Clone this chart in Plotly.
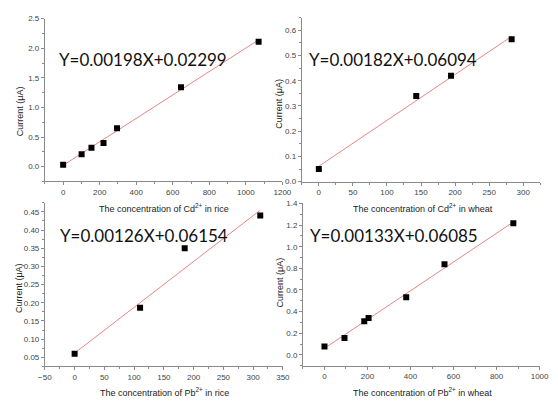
import plotly.graph_objects as go

W, H = 558, 402

# ---- data ----
cd_rice_x = [0, 101, 155, 221, 295, 645, 1070]
cd_rice_y = [0.03, 0.21, 0.32, 0.40, 0.65, 1.34, 2.11]

cd_wheat_x = [0, 143, 194, 283]
cd_wheat_y = [0.05, 0.34, 0.42, 0.565]

pb_rice_x = [0, 110, 185, 312]
pb_rice_y = [0.06, 0.186, 0.35, 0.44]

pb_wheat_x = [0, 93, 185, 205, 380, 558, 878]
pb_wheat_y = [0.078, 0.156, 0.31, 0.342, 0.532, 0.838, 1.217]

slopes = [0.00198, 0.00182, 0.00126, 0.00133]
intercepts = [0.02299, 0.06094, 0.06154, 0.06085]
equations = ["Y=0.00198X+0.02299", "Y=0.00182X+0.06094",
             "Y=0.00126X+0.06154", "Y=0.00133X+0.06085"]
x_titles = ["The concentration of Cd<sup>2+</sup> in rice",
            "The concentration of Cd<sup>2+</sup> in wheat",
            "The concentration of Pb<sup>2+</sup> in rice",
            "The concentration of Pb<sup>2+</sup> in wheat"]
y_title = "Current (μA)"

panels = [(cd_rice_x, cd_rice_y), (cd_wheat_x, cd_wheat_y),
          (pb_rice_x, pb_rice_y), (pb_wheat_x, pb_wheat_y)]

def px(x):
    return x / W

def py(y):
    return 1 - y / H

# layout in pixels: (x0, x1, ytop, ybottom)
frames = [(39, 283.5, 15, 181.5), (303.5, 549, 14, 181.7),
          (39, 284, 203.3, 370.7), (304.7, 548.3, 204, 370)]
xranges = [[-100, 1200], [-25, 325], [-50, 350], [-100, 1000]]
yranges = [[-0.25, 2.5], [0, 0.65], [0.025, 0.475], [-0.1, 1.4]]
xdticks = [200, 50, 50, 200]
ydticks = [0.5, 0.1, 0.05, 0.2]
yfmts = [".1f", ".1f", ".2f", ".1f"]
eq_pos = [(140.5, 57), (397, 57), (141, 237), (398, 237)]
xt_pos = [(162, 209), (428, 209), (162, 397), (428, 397)]
yt_pos = [(13, 110), (280, 102), (13, 291), (281, 285)]

fig = go.Figure()
line_col = "#e88585"
axis_col = "#8a8a8a"
tick_font = dict(family="Liberation Sans, Arial, sans-serif", size=8, color="#444444")
label_font = dict(family="Liberation Sans, Arial, sans-serif", size=9, color="#222222")

for i, (xs, ys) in enumerate(panels):
    sfx = "" if i == 0 else str(i + 1)
    xa, ya = "x" + sfx, "y" + sfx
    lx = [min(xs), max(xs)]
    ly = [slopes[i] * v + intercepts[i] for v in lx]
    fig.add_trace(go.Scatter(x=lx, y=ly, mode="lines", xaxis=xa, yaxis=ya,
                             line=dict(color=line_col, width=1), showlegend=False,
                             hoverinfo="skip"))
    fig.add_trace(go.Scatter(x=xs, y=ys, mode="markers", xaxis=xa, yaxis=ya,
                             marker=dict(symbol="square", size=6, color="black"),
                             showlegend=False))
    x0, x1, yt, yb = frames[i]
    common = dict(showgrid=False, zeroline=False, showline=True, linecolor=axis_col,
                  linewidth=1, ticks="outside", ticklen=3, tickwidth=1,
                  tickcolor=axis_col, tickfont=tick_font)
    fig.layout["xaxis" + sfx] = dict(domain=[px(x0), px(x1)], anchor=ya,
                                     range=xranges[i], tick0=0, dtick=xdticks[i],
                                     minor=dict(ticks="outside", ticklen=2,
                                                tickcolor=axis_col,
                                                dtick=xdticks[i] / 2, tick0=0),
                                     **common)
    fig.layout["yaxis" + sfx] = dict(domain=[py(yb), py(yt)], anchor=xa,
                                     range=yranges[i], tick0=0, dtick=ydticks[i],
                                     tickformat=yfmts[i],
                                     minor=dict(ticks="outside", ticklen=2,
                                                tickcolor=axis_col,
                                                dtick=ydticks[i] / 2, tick0=0),
                                     **common)
    ex, ey = eq_pos[i]
    fig.add_annotation(x=px(ex), y=py(ey), xref="paper", yref="paper",
                       text=equations[i], showarrow=False,
                       font=dict(family="Lato, Open Sans, sans-serif", size=17, color="#111111"),
                       xanchor="center", yanchor="middle")
    tx, ty = xt_pos[i]
    fig.add_annotation(x=px(tx), y=py(ty), xref="paper", yref="paper",
                       text=x_titles[i], showarrow=False, font=label_font,
                       xanchor="center", yanchor="middle")
    ux, uy = yt_pos[i]
    fig.add_annotation(x=px(ux), y=py(uy), xref="paper", yref="paper",
                       text=y_title, showarrow=False, textangle=-90, font=label_font,
                       xanchor="center", yanchor="middle")

fig.update_layout(width=W, height=H, margin=dict(l=0, r=0, t=0, b=0),
                  paper_bgcolor="white", plot_bgcolor="white")

fig.write_html("out.html", config={"displayModeBar": False},
               post_script="document.body.style.margin='0';document.body.style.overflow='hidden';")
